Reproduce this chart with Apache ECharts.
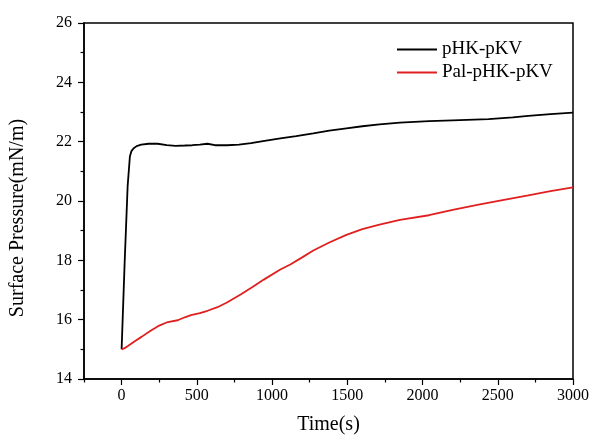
<!DOCTYPE html>
<html>
<head>
<meta charset="utf-8">
<script src="https://cdn.jsdelivr.net/npm/echarts@6/dist/echarts.min.js"></script>
<style>html,body{margin:0;padding:0;background:#fff}#c{width:592px;height:440px}</style>
</head>
<body>
<div id="c"></div>
<script>
var seriesNames = ['pHK-pKV', 'Pal-pHK-pKV'];
var blackData = [[0,15.0],[20,17.9],[40,20.5],[55,21.5],[65,21.68],[80,21.78],[100,21.85],[130,21.9],[180,21.93],[240,21.93],[300,21.88],[360,21.86],[420,21.87],[470,21.88],[520,21.9],[570,21.93],[620,21.88],[700,21.88],[780,21.9],[860,21.95],[950,22.03],[1055,22.11],[1160,22.19],[1274,22.28],[1380,22.37],[1494,22.45],[1600,22.52],[1714,22.58],[1850,22.64],[2043,22.69],[2200,22.72],[2439,22.76],[2600,22.82],[2703,22.87],[2850,22.93],[3000,22.98]];
var redData = [[0,15.0],[20,15.04],[44,15.12],[90,15.28],[132,15.42],[190,15.62],[242,15.78],[307,15.92],[373,15.98],[420,16.08],[461,16.15],[520,16.22],[571,16.3],[637,16.42],[700,16.58],[791,16.85],[870,17.1],[945,17.35],[1055,17.69],[1121,17.86],[1200,18.1],[1274,18.33],[1380,18.6],[1494,18.86],[1600,19.05],[1714,19.2],[1850,19.36],[2043,19.52],[2200,19.7],[2373,19.88],[2550,20.05],[2703,20.19],[2850,20.33],[3000,20.46]];
var xMajorTicks = [0, 500, 1000, 1500, 2000, 2500, 3000];
var xMinorTicks = [-250, 250, 750, 1250, 1750, 2250, 2750];
var yMin = 14, yMax = 26, yStep = 2;
var xMin = -250, xMax = 3000;

var font = 'Liberation Serif';
var chart = echarts.init(document.getElementById('c'));
chart.setOption({
  backgroundColor: '#fff',
  animation: false,
  grid: {left: 83, right: 17, top: 23, bottom: 58, show: true, borderColor: '#000', borderWidth: 1.5, backgroundColor: 'transparent'},
  legend: {
    orient: 'vertical', left: 392, top: 35, itemGap: 4,
    icon: 'rect', itemWidth: 40, itemHeight: 2,
    textStyle: {fontFamily: font, fontSize: 19, color: '#000'},
    data: seriesNames
  },
  xAxis: [{
    type: 'value', min: xMin, max: xMax, interval: 250,
    name: 'Time(s)', nameLocation: 'middle', nameGap: 36,
    nameTextStyle: {fontFamily: font, fontSize: 20, color: '#000'},
    axisLine: {show: true, onZero: false, lineStyle: {color: '#000', width: 1.5}},
    axisTick: {show: true, length: 6, customValues: xMajorTicks, lineStyle: {color: '#000', width: 1.2}},
    axisLabel: {customValues: xMajorTicks, margin: 9, fontFamily: font, fontSize: 16, color: '#000', formatter: function (v) { return String(v); }},
    splitLine: {show: false}
  }, {
    type: 'value', min: xMin, max: xMax, interval: 250, position: 'bottom',
    axisLine: {show: false, onZero: false},
    axisTick: {show: true, length: 3.5, customValues: xMinorTicks, lineStyle: {color: '#000', width: 1.2}},
    axisLabel: {show: false},
    splitLine: {show: false}
  }],
  yAxis: {
    type: 'value', min: yMin, max: yMax, interval: yStep,
    name: 'Surface Pressure(mN/m)', nameLocation: 'middle', nameGap: 56,
    nameTextStyle: {fontFamily: font, fontSize: 20, color: '#000', padding: [0, 34, 0, 0]},
    axisLine: {show: true, onZero: false, lineStyle: {color: '#000', width: 1.5}},
    axisTick: {show: true, length: 6, lineStyle: {color: '#000', width: 1.2}},
    minorTick: {show: true, splitNumber: 2, length: 3.5, lineStyle: {color: '#000', width: 1.2}},
    axisLabel: {margin: 12, fontFamily: font, fontSize: 16, color: '#000'},
    splitLine: {show: false}
  },
  series: [{
    name: seriesNames[0], type: 'line', data: blackData, showSymbol: false,
    lineStyle: {color: '#000', width: 1.8}, itemStyle: {color: '#000'}
  }, {
    name: seriesNames[1], type: 'line', data: redData, showSymbol: false,
    lineStyle: {color: '#e0201e', width: 1.8}, itemStyle: {color: '#e0201e'}
  }]
});
</script>
</body>
</html>
